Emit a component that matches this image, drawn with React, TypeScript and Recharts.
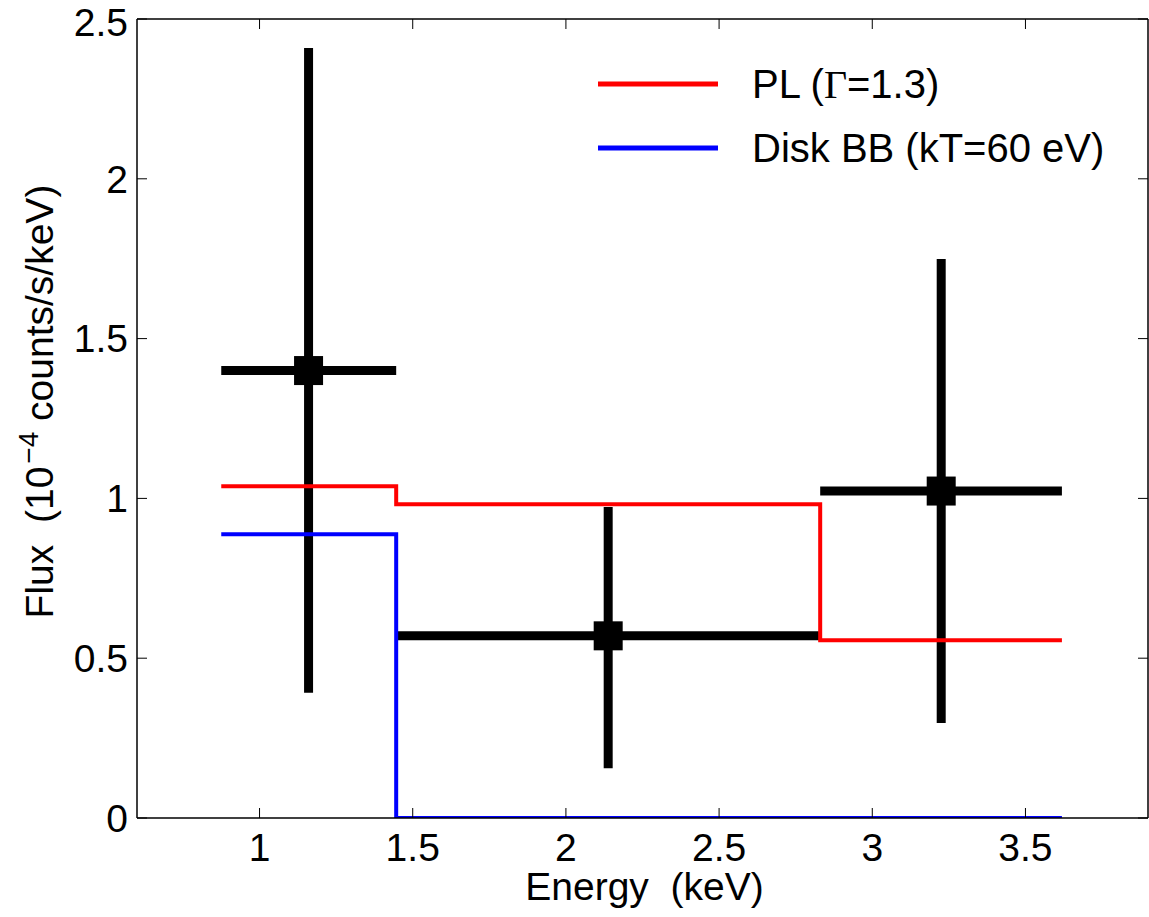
import React from "react";
import {
  ComposedChart,
  Scatter,
  ErrorBar,
  Line,
  XAxis,
  YAxis,
  Legend,
} from "recharts";

// energy bins (keV) and measured flux (1e-4 counts/s/keV)
const binCenter = [1.16, 2.138, 3.225];
const binLo = [0.875, 1.446, 2.83];
const binHi = [1.446, 2.83, 3.619];
const flux = [1.4, 0.57, 1.023];
const fluxLo = [0.392, 0.156, 0.297];
const fluxHi = [2.409, 0.973, 1.749];

// model step curves: bin edge + level
const plEdges = [0.875, 1.446, 2.83, 3.619];
const plLevels = [1.038, 0.982, 0.556, 0.556];
const bbEdges = [0.875, 1.446, 3.619];
const bbLevels = [0.888, 0, 0];

const PL_NAME = "PL (\u0393=1.3)";
const BB_NAME = "Disk BB (kT=60 eV)";
const legendOrder = [PL_NAME, BB_NAME];

const xTicks = [1, 1.5, 2, 2.5, 3, 3.5];
const yTicks = [0, 0.5, 1, 1.5, 2, 2.5];

const points = binCenter.map((x, i) => ({
  x,
  y: flux[i],
  ex: [x - binLo[i], binHi[i] - x],
  ey: [flux[i] - fluxLo[i], fluxHi[i] - flux[i]],
}));
const plData = plEdges.map((x, i) => ({ x, y: plLevels[i] }));
const bbData = bbEdges.map((x, i) => ({ x, y: bbLevels[i] }));

const FONT = "'Liberation Sans', Arial, Helvetica, sans-serif";
const SERIF = "'Liberation Serif', 'Times New Roman', serif";
const tickStyle = { fontSize: 39, fill: "#000", fontFamily: FONT };

const Square = (props: any) => {
  const { cx, cy } = props;
  if (cx == null || cy == null) return null;
  return <rect x={cx - 14.5} y={cy - 14.5} width={29} height={29} fill="#000" />;
};

// greek capital gamma drawn in a serif face, like TeX output
const legendText = (s: string) => {
  const k = s.indexOf("\u0393");
  if (k < 0) return s;
  return (
    <>
      {s.slice(0, k)}
      <tspan fontFamily={SERIF}>{"\u0393"}</tspan>
      <tspan fontFamily={FONT}>{s.slice(k + 1)}</tspan>
    </>
  );
};

const renderLegend = (props: any) => {
  const items = (props.payload || [])
    .filter((p: any) => legendOrder.includes(p.value))
    .sort((a: any, b: any) => legendOrder.indexOf(a.value) - legendOrder.indexOf(b.value));
  return (
    <svg width={540} height={130} style={{ display: "block" }}>
      {items.map((p: any, i: number) => (
        <g key={p.value}>
          <line
            x1={0}
            x2={120}
            y1={26 + i * 64}
            y2={26 + i * 64}
            stroke={p.color}
            strokeWidth={5}
          />
          <text x={154} y={40 + i * 64} fontSize={40} fill="#000" fontFamily={FONT}>
            {legendText(p.value)}
          </text>
        </g>
      ))}
    </svg>
  );
};

const renderYLabel = (props: any) => {
  const vb = props.viewBox || {};
  const cx = 53;
  const cy = vb.y + vb.height / 2 - 17;
  return (
    <text
      x={cx}
      y={cy}
      textAnchor="middle"
      transform={`rotate(-90, ${cx}, ${cy})`}
      fontSize={39}
      fill="#000"
      fontFamily={FONT}
      style={{ whiteSpace: "pre" }}
    >
      {"Flux  (10"}
      <tspan dx={3} dy={-15} fontSize={28}>
        {"\u22124"}
      </tspan>
      <tspan dy={15} fontSize={39}>
        {" counts/s/keV)"}
      </tspan>
    </text>
  );
};

const renderXLabel = (props: any) => {
  const vb = props.viewBox || {};
  return (
    <text
      x={vb.x + vb.width / 2 + 2}
      y={vb.y + 82}
      textAnchor="middle"
      fontSize={39}
      fill="#000"
      fontFamily={FONT}
      style={{ whiteSpace: "pre" }}
    >
      {"Energy  (keV)"}
    </text>
  );
};

export default function App() {
  return (
    <div
      style={{
        position: "absolute",
        left: 0,
        top: 0,
        width: 1149,
        height: 917,
        fontFamily: FONT,
        background: "#fff",
      }}
    >
      <ComposedChart
        width={1149}
        height={917}
        margin={{ top: 18, right: 0, bottom: 0, left: 0 }}
      >
        <XAxis
          xAxisId={0}
          dataKey="x"
          type="number"
          domain={[0.6, 3.9]}
          ticks={xTicks}
          allowDataOverflow
          height={99}
          axisLine={{ stroke: "#000", strokeWidth: 1.5 }}
          tickLine={{ stroke: "#000", strokeWidth: 1 }}
          tickSize={-10}
          tickMargin={25}
          tick={tickStyle}
          label={renderXLabel}
        />
        <XAxis
          xAxisId="top"
          orientation="top"
          dataKey="x"
          type="number"
          domain={[0.6, 3.9]}
          ticks={xTicks}
          allowDataOverflow
          height={1}
          axisLine={{ stroke: "#000", strokeWidth: 1.5 }}
          tickLine={{ stroke: "#000", strokeWidth: 1 }}
          tickSize={-10}
          tickFormatter={() => ""}
        />
        <YAxis
          yAxisId={0}
          type="number"
          domain={[0, 2.5]}
          ticks={yTicks}
          allowDataOverflow
          width={137}
          axisLine={{ stroke: "#000", strokeWidth: 1.5 }}
          tickLine={{ stroke: "#000", strokeWidth: 1 }}
          tickSize={-10}
          tickMargin={19}
          tick={tickStyle}
          label={renderYLabel}
        />
        <YAxis
          yAxisId="right"
          orientation="right"
          type="number"
          domain={[0, 2.5]}
          ticks={yTicks}
          allowDataOverflow
          width={1}
          axisLine={{ stroke: "#000", strokeWidth: 1.5 }}
          tickLine={{ stroke: "#000", strokeWidth: 1 }}
          tickSize={-10}
          tickFormatter={() => ""}
        />
        <Scatter
          name="data"
          data={points}
          dataKey="y"
          fill="#000"
          shape={<Square />}
          legendType="none"
          isAnimationActive={false}
        >
          <ErrorBar dataKey="ex" direction="x" width={0} stroke="#000" strokeWidth={9} />
          <ErrorBar dataKey="ey" direction="y" width={0} stroke="#000" strokeWidth={9} />
        </Scatter>
        <Line
          name={PL_NAME}
          data={plData}
          dataKey="y"
          type="stepAfter"
          stroke="#ff0000"
          strokeWidth={4}
          dot={false}
          activeDot={false}
          isAnimationActive={false}
        />
        <Line
          name={BB_NAME}
          data={bbData}
          dataKey="y"
          type="stepAfter"
          stroke="#0000ff"
          strokeWidth={4}
          dot={false}
          activeDot={false}
          isAnimationActive={false}
        />
        <Legend
          content={renderLegend}
          layout="vertical"
          align="center"
          verticalAlign="middle"
          wrapperStyle={{ left: 598, top: 58, width: 540, height: 130 }}
        />
      </ComposedChart>
    </div>
  );
}
